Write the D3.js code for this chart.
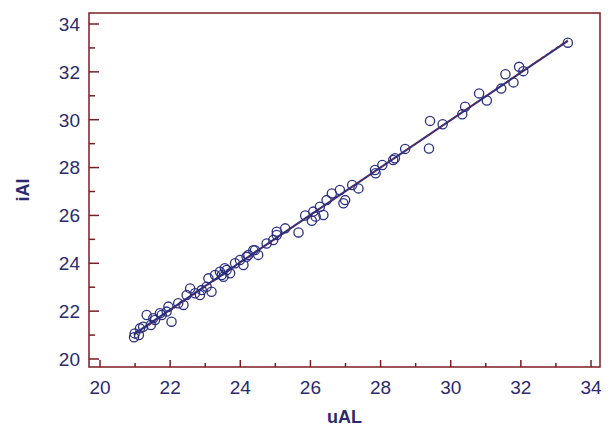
<!DOCTYPE html>
<html>
<head>
<script src="https://d3js.org/d3.v7.min.js"></script>
<style>
body { margin: 0; background: #fff; }
svg { display: block; }
svg text { font-family: Arial, "Liberation Sans", sans-serif; fill: #2b2a6e; }
</style>
</head>
<body>
<div id="root"></div>
<script>
// uAL vs iAI
let ual = [20.97, 21.11, 21.33, 21.23, 21.45, 21.57, 21.76, 21.90, 22.04, 22.23,
    22.38, 22.47, 22.57, 22.71, 22.85, 22.90, 23.04, 23.18, 23.09, 23.28,
    23.42, 23.52, 23.61, 23.85, 23.99, 24.18, 24.09, 24.42, 24.51, 24.75,
    21.52, 21.14, 20.99, 21.71, 21.95, 23.71, 23.47, 23.56, 24.37, 24.23,
    25.04, 24.94, 25.04, 25.28, 25.66, 26.04, 26.08, 26.37, 26.27, 26.46,
    26.61, 26.84, 26.94, 26.99, 27.19, 27.37, 27.84, 27.86, 28.05, 28.36,
    28.41, 28.70, 29.38, 29.41, 29.77, 30.33, 30.41, 30.81, 31.03, 31.44,
    31.56, 31.79, 31.95, 32.07, 33.34, 25.85, 26.15];
let ial = [20.91, 21.00, 21.84, 21.35, 21.42, 21.63, 21.84, 21.98, 21.56, 22.33,
    22.26, 22.67, 22.95, 22.75, 22.67, 22.88, 23.02, 22.81, 23.37, 23.51,
    23.65, 23.44, 23.72, 24.00, 24.14, 24.27, 23.93, 24.55, 24.35, 24.83,
    21.70, 21.28, 21.07, 21.91, 22.19, 23.58, 23.51, 23.79, 24.55, 24.35,
    25.32, 24.97, 25.18, 25.46, 25.29, 25.78, 26.16, 26.02, 26.36, 26.64,
    26.92, 27.06, 26.51, 26.64, 27.27, 27.13, 27.90, 27.76, 28.11, 28.32,
    28.39, 28.78, 28.80, 29.95, 29.81, 30.23, 30.54, 31.10, 30.80, 31.30,
    31.90, 31.56, 32.21, 32.03, 33.22, 26.00, 25.95];
let x_ticks = d3.range(20, 35, 2);
let y_ticks = d3.range(20, 35, 2);
let minor_ticks = d3.range(21, 34, 2);

let width = 610, height = 428;
let m_left = 89, m_right = 600, m_top = 13, m_bottom = 367;
let frame_color = '#7b1d22';
let navy = '#2b2f7f';

let x = d3.scaleLinear().domain([20, 34]).range([100, 591]);
let y = d3.scaleLinear().domain([20, 34]).range([359, 24]);

let svg = d3.select('#root').append('svg')
    .attr('width', width)
    .attr('height', height);

// least squares fit
let mx = d3.mean(ual), my = d3.mean(ial);
let slope = d3.sum(ual, (d, i) => (d - mx) * (ial[i] - my)) / d3.sum(ual, d => (d - mx) * (d - mx));
let icpt = my - slope * mx;
let [x0, x1] = d3.extent(ual);

svg.append('line')
    .attr('x1', x(x0)).attr('y1', y(icpt + slope * x0))
    .attr('x2', x(x1)).attr('y2', y(icpt + slope * x1))
    .attr('stroke', navy)
    .attr('stroke-width', 2);
svg.append('line')
    .attr('x1', x(x0)).attr('y1', y(x0))
    .attr('x2', x(x1)).attr('y2', y(x1))
    .attr('stroke', '#a02030')
    .attr('stroke-width', 1)
    .attr('stroke-dasharray', '3,3');

svg.append('g')
    .attr('fill', 'none')
    .attr('stroke', navy)
    .attr('stroke-width', 1.3)
    .selectAll('circle')
    .data(ual)
    .join('circle')
    .attr('cx', d => x(d))
    .attr('cy', (d, i) => y(ial[i]))
    .attr('r', 4.6);

// frame
svg.append('rect')
    .attr('x', m_left).attr('y', m_top)
    .attr('width', m_right - m_left).attr('height', m_bottom - m_top)
    .attr('fill', 'none')
    .attr('stroke', frame_color)
    .attr('stroke-width', 1.5);

// x axis ticks, inward
let gx = svg.append('g').attr('stroke', frame_color).attr('stroke-width', 1.5);
gx.selectAll('line.major').data(x_ticks).join('line').attr('class', 'major')
    .attr('x1', d => x(d)).attr('x2', d => x(d))
    .attr('y1', m_bottom).attr('y2', m_bottom - 7);
gx.selectAll('line.minor').data(minor_ticks).join('line').attr('class', 'minor')
    .attr('x1', d => x(d)).attr('x2', d => x(d))
    .attr('y1', m_bottom).attr('y2', m_bottom - 4);
svg.append('g').selectAll('text').data(x_ticks).join('text')
    .attr('x', d => x(d))
    .attr('y', 394)
    .attr('text-anchor', 'middle')
    .attr('font-size', 19)
    .text(d => d);

// y axis ticks
let gy = svg.append('g').attr('stroke', frame_color).attr('stroke-width', 1.5);
gy.selectAll('line.major').data(y_ticks).join('line').attr('class', 'major')
    .attr('y1', d => y(d)).attr('y2', d => y(d))
    .attr('x1', m_left).attr('x2', m_left + 10);
gy.selectAll('line.minor').data(minor_ticks).join('line').attr('class', 'minor')
    .attr('y1', d => y(d)).attr('y2', d => y(d))
    .attr('x1', m_left).attr('x2', m_left + 6);
svg.append('g').selectAll('text').data(y_ticks).join('text')
    .attr('x', 80)
    .attr('y', d => y(d))
    .attr('dy', '0.36em')
    .attr('text-anchor', 'end')
    .attr('font-size', 19)
    .text(d => d);

svg.append('text')
    .attr('x', (m_left + m_right) / 2)
    .attr('y', 423)
    .attr('text-anchor', 'middle')
    .attr('font-size', 18)
    .attr('font-weight', 'bold')
    .text('uAL');
svg.append('text')
    .attr('transform', `translate(29, ${(m_top + m_bottom) / 2}) rotate(-90)`)
    .attr('text-anchor', 'middle')
    .attr('font-size', 18)
    .attr('font-weight', 'bold')
    .text('iAI');
</script>
</body>
</html>
